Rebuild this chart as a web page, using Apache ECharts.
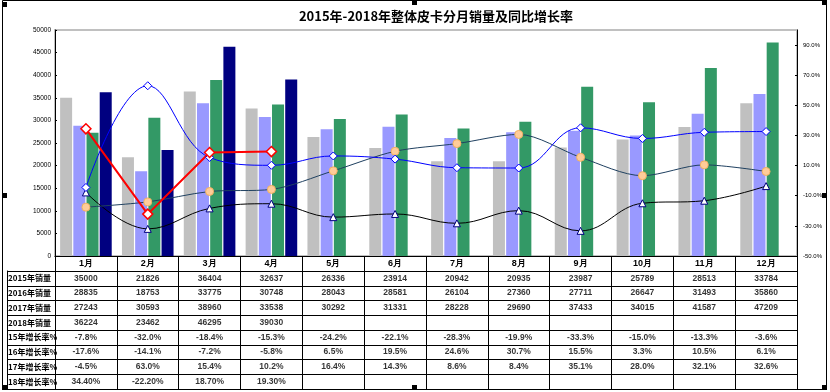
<!DOCTYPE html>
<html>
<head>
<meta charset="utf-8">
<script src="https://cdn.jsdelivr.net/npm/echarts@6/dist/echarts.min.js"></script>
<style>html,body{margin:0;padding:0;background:#fff;}#c{width:830px;height:392px;}</style>
</head>
<body>
<div id="c"></div>
<script>
var months = ['1月','2月','3月','4月','5月','6月','7月','8月','9月','10月','11月','12月'];
var rowNames = ['2015年销量','2016年销量','2017年销量','2018年销量','15年增长率%','16年增长率%','17年增长率%','18年增长率%'];
var s2015 = [35000,21826,36404,32637,26336,23914,20942,20935,23987,25789,28513,33784];
var s2016 = [28835,18753,33775,30748,28043,28581,26104,27360,27711,26647,31493,35860];
var s2017 = [27243,30593,38960,33538,30292,31331,28228,29690,37433,34015,41587,47209];
var s2018 = [36224,23462,46295,39030];
var g15 = [-7.8,-32.0,-18.4,-15.3,-24.2,-22.1,-28.3,-19.9,-33.3,-15.0,-13.3,-3.6];
var g16 = [-17.6,-14.1,-7.2,-5.8,6.5,19.5,24.6,30.7,15.5,3.3,10.5,6.1];
var g17 = [-4.5,63.0,15.4,10.2,16.4,14.3,8.6,8.4,35.1,28.0,32.1,32.6];
var g18 = [34.40,-22.20,18.70,19.30];
var leftTicks = {min:0, max:50000, interval:5000};
var rightTicks = {min:-50, max:100, interval:20};

var FONT = 'Liberation Sans';
var rows = [s2015, s2016, s2017, s2018, g15, g16, g17, g18];
var cells = [];
rows.forEach(function(arr, r){
  arr.forEach(function(v, c){
    var t;
    if (r < 4) t = String(v);
    else if (r === 7) t = v.toFixed(2) + '%';
    else t = v.toFixed(1) + '%';
    cells.push([c, r, t]);
  });
});

var chart = echarts.init(document.getElementById('c'));
var handles = [[2,2],[412,0],[822,0],[2,193],[822,193],[2,385],[412,385],[822,385]];
var graphics = [{type:'rect', shape:{x:2.5,y:0.5,width:824,height:389}, style:{fill:'none', stroke:'#000', lineWidth:1}, silent:true}];
handles.forEach(function(h){ graphics.push({type:'rect', shape:{x:h[0],y:h[1],width:5,height:5}, style:{fill:'#000'}, silent:true}); });

var option = {
  animation:false,
  backgroundColor:'#fff',
  title:{text:'2015年-2018年整体皮卡分月销量及同比增长率', left:431, textAlign:'center', top:5,
    textStyle:{fontFamily:'Noto Sans CJK SC', fontSize:13, fontWeight:'bold', color:'#000'}},
  graphic: graphics,
  grid:[
    {left:55, right:33, top:30, bottom:136, show:true, borderColor:'#C0C0C0', borderWidth:2, backgroundColor:'#fff'},
    {left:55, right:33, top:271, height:118}
  ],
  xAxis:[
    {type:'category', gridIndex:0, data:months,
     axisLine:{lineStyle:{color:'#000', width:1}},
     axisTick:{show:true, length:15, interval:0, lineStyle:{color:'#000'}},
     axisLabel:{interval:0, margin:3, fontFamily:FONT, fontSize:9, fontWeight:'bold', color:'#000'}},
    {type:'category', gridIndex:1, data:months,
     axisLine:{show:false}, axisTick:{show:false}, axisLabel:{show:false},
     splitLine:{show:true, interval:0, lineStyle:{color:'#000', width:1}}}
  ],
  yAxis:[
    {type:'value', gridIndex:0, min:leftTicks.min, max:leftTicks.max, interval:leftTicks.interval,
     axisLine:{show:true, lineStyle:{color:'#000'}},
     axisTick:{show:true, inside:true, length:2, lineStyle:{color:'#000'}},
     axisLabel:{fontFamily:FONT, fontSize:6.5, color:'#000', margin:4, formatter:function(v){return String(v);}},
     splitLine:{show:false}},
    {type:'value', gridIndex:0, position:'right', min:rightTicks.min, max:rightTicks.max, interval:rightTicks.interval,
     axisLine:{show:true, lineStyle:{color:'#000'}},
     axisTick:{show:true, inside:true, length:2, lineStyle:{color:'#000'}},
     axisLabel:{fontFamily:FONT, fontSize:6, color:'#000', margin:6, showMaxLabel:false,
       formatter:function(v){return v.toFixed(1)+'%';}},
     splitLine:{show:false}},
    {type:'category', gridIndex:1, data:rowNames, inverse:true,
     axisLine:{show:true, lineStyle:{color:'#000'}},
     axisTick:{show:true, length:48, interval:0, lineStyle:{color:'#000'}},
     axisLabel:{interval:0, align:'left', margin:47, fontFamily:'Noto Sans CJK SC', fontSize:8, fontWeight:'bold', color:'#000'},
     splitLine:{show:true, interval:0, lineStyle:{color:'#000', width:1}}},
    {type:'value', gridIndex:1, position:'left', offset:48,
     axisLine:{show:true, lineStyle:{color:'#000'}}, axisTick:{show:false}, axisLabel:{show:false}, splitLine:{show:false}}
  ],
  series:[
    {name:'2015年销量', type:'bar', xAxisIndex:0, yAxisIndex:0, data:s2015, barWidth:12, barGap:'10%', itemStyle:{color:'#C0C0C0'}},
    {name:'2016年销量', type:'bar', xAxisIndex:0, yAxisIndex:0, data:s2016, barWidth:12, barGap:'10%', itemStyle:{color:'#9999FF'}},
    {name:'2017年销量', type:'bar', xAxisIndex:0, yAxisIndex:0, data:s2017, barWidth:12, barGap:'10%', itemStyle:{color:'#339966'}},
    {name:'2018年销量', type:'bar', xAxisIndex:0, yAxisIndex:0, data:s2018, barWidth:12, barGap:'10%', itemStyle:{color:'#000080'}},
    {name:'15年增长率%', type:'line', xAxisIndex:0, yAxisIndex:1, data:g15, smooth:0.4,
     lineStyle:{color:'#000', width:1}, symbol:'triangle', symbolSize:7,
     itemStyle:{color:'#fff', borderColor:'#000080', borderWidth:1}},
    {name:'16年增长率%', type:'line', xAxisIndex:0, yAxisIndex:1, data:g16, smooth:0.3,
     lineStyle:{color:'#1F4060', width:1}, symbol:'circle', symbolSize:8,
     itemStyle:{color:'#FFCC99', borderColor:'#F2B060', borderWidth:1}},
    {name:'17年增长率%', type:'line', xAxisIndex:0, yAxisIndex:1, data:g17, smooth:0.4,
     lineStyle:{color:'#0000FF', width:1}, symbol:'diamond', symbolSize:8,
     itemStyle:{color:'#fff', borderColor:'#0000FF', borderWidth:1}},
    {name:'18年增长率%', type:'line', xAxisIndex:0, yAxisIndex:1, data:g18, smooth:false,
     lineStyle:{color:'#FF0000', width:2}, symbol:'diamond', symbolSize:10,
     itemStyle:{color:'#fff', borderColor:'#FF0000', borderWidth:1.5}},
    {name:'table', type:'scatter', xAxisIndex:1, yAxisIndex:2, data:cells, symbol:'rect', symbolSize:1,
     itemStyle:{color:'rgba(0,0,0,0)'},
     label:{show:true, position:'inside', formatter:function(p){return p.data[2];},
       fontFamily:FONT, fontSize:8.5, fontWeight:'bold', color:'#000'}}
  ]
};
chart.setOption(option);
</script>
</body>
</html>
